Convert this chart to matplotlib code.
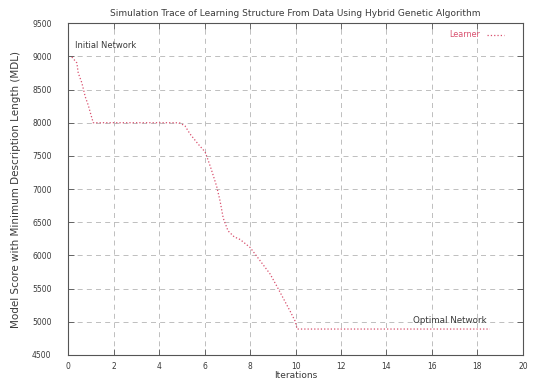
import matplotlib
matplotlib.use("Agg")
import matplotlib.pyplot as plt

# trace of the best model score per iteration
iterations = [0.16, 0.38, 0.44, 0.60, 0.75, 0.88, 1.04, 1.10, 2.5, 4.0, 4.7, 4.92,
              5.14, 5.36, 5.71, 6.02, 6.15, 6.30, 6.53, 6.68, 6.82, 7.03, 7.30,
              7.56, 8.00, 8.44, 8.88, 9.17, 9.45, 9.76, 9.98, 10.07, 12.0, 14.0,
              16.0, 18.55]
scores = [8990, 8900, 8750, 8600, 8390, 8265, 8070, 8000, 8000, 8000, 8000, 7995,
          7950, 7830, 7680, 7560, 7440, 7290, 7040, 6820, 6560, 6370, 6280,
          6240, 6120, 5920, 5720, 5540, 5360, 5160, 5010, 4890, 4890, 4890,
          4890, 4890]

xticks = list(range(0, 21, 2))
yticks = list(range(4500, 9501, 500))

fig = plt.figure(figsize=(5.33, 3.8), dpi=100)
ax = fig.add_axes([0.128, 0.066, 0.853, 0.873])

txt = "#3a3a3a"
red = "#d9506e"
ax.plot(iterations, scores, linestyle=":", color=red, linewidth=0.9,
        label="Learner")

ax.set_xlim(0, 20)
ax.set_ylim(4500, 9500)
ax.set_xticks(xticks)
ax.set_yticks(yticks)
ax.tick_params(direction="in", top=True, right=True, labelsize=5.5,
               colors="#555555", labelcolor=txt, length=4, width=0.6)
ax.tick_params(axis="y", pad=12)
ax.tick_params(axis="x", pad=5)
ax.grid(True, linestyle=(0, (6, 5)), color="#b4b4b4", linewidth=0.6)
for s in ax.spines.values():
    s.set_color("#555555")
    s.set_linewidth(0.8)

ax.set_title("Simulation Trace of Learning Structure From Data Using Hybrid Genetic Algorithm",
             fontsize=6.5, color=txt, pad=5)
ax.set_xlabel("Iterations", fontsize=6.5, color=txt, labelpad=0)
ax.set_ylabel("Model Score with Minimum Description Length (MDL)", fontsize=7.5,
              color=txt, labelpad=8)

ax.text(0.3, 9170, "Initial Network", fontsize=6, color=txt, va="center")
ax.text(16.8, 5020, "Optimal Network", fontsize=6.3, color=txt, va="center",
        ha="center")

leg = ax.legend(loc="upper right", frameon=False, fontsize=5.8, handlelength=2.2,
                labelcolor=red, markerfirst=False, borderaxespad=0.5,
                bbox_to_anchor=(0.975, 1.0))

fig.savefig("out.png", dpi=100)
